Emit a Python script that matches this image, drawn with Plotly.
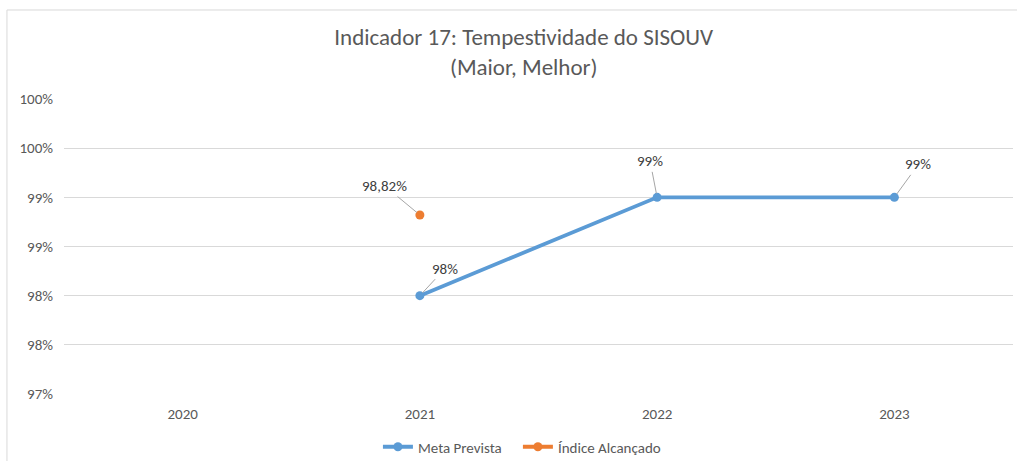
import plotly.graph_objects as go

categories = ["2020", "2021", "2022", "2023"]
meta_prevista = [None, 98.0, 99.0, 99.0]
meta_labels = [None, "98%", "99%", "99%"]
indice_alcancado = [None, 98.82, None, None]
indice_labels = [None, "98,82%", None, None]
y_tick_vals = [97.0, 97.5, 98.0, 98.5, 99.0, 99.5, 100.0]
y_tick_text = ["97%", "98%", "98%", "99%", "99%", "100%", "100%"]

FONT = "Carlito, Calibri, Lato, 'Open Sans', sans-serif"
BLUE = "#5B9BD5"
ORANGE = "#ED7D31"
GRID = "#D9D9D9"
TXT = "#595959"

fig = go.Figure()
fig.add_trace(go.Scatter(
    x=categories, y=meta_prevista, mode="lines+markers", name="Meta Prevista",
    line=dict(color=BLUE, width=3.8), marker=dict(color=BLUE, size=9),
    legend="legend",
))
fig.add_trace(go.Scatter(
    x=categories, y=indice_alcancado, mode="lines+markers", name="Índice Alcançado",
    line=dict(color=ORANGE, width=3.8), marker=dict(color=ORANGE, size=9),
    legend="legend2",
))

# label offsets (styling), in pixels
meta_offsets = [None, (25, -27), (-7, -36), (24, -33)]
indice_offsets = [None, (-35, -29), None, None]

anns = []
for series, labels, offsets in ((meta_prevista, meta_labels, meta_offsets),
                                (indice_alcancado, indice_labels, indice_offsets)):
    for i, (v, t) in enumerate(zip(series, labels)):
        if v is None:
            continue
        ax, ay = offsets[i]
        anns.append(dict(x=i, y=v, xref="x", yref="y", text=t, showarrow=True,
                         arrowhead=0, arrowwidth=1, arrowcolor="#A6A6A6",
                         ax=ax, ay=ay, standoff=4,
                         font=dict(family=FONT, size=15, color="#404040")))

legend_style = dict(orientation="h", xanchor="left", yref="container", y=0.0304,
                    yanchor="middle", font=dict(family=FONT, size=15, color=TXT),
                    bgcolor="rgba(0,0,0,0)", borderwidth=0)

fig.update_layout(
    width=1017, height=461,
    margin=dict(l=64, r=4, t=99, b=67),
    paper_bgcolor="white", plot_bgcolor="white",
    font=dict(family=FONT, size=15, color=TXT),
    title=dict(text="Indicador 17: Tempestividade do SISOUV<br>(Maior, Melhor)",
               x=0.515, xanchor="center", y=0.902, yanchor="middle",
               font=dict(family=FONT, size=23, color=TXT)),
    xaxis=dict(type="category", range=[-0.5, 3.5], showgrid=False, showline=False,
               ticks="", tickfont=dict(size=15, color=TXT), zeroline=False,
               ticklabelstandoff=9, automargin=False),
    yaxis=dict(range=[97.0, 100.0], tickvals=y_tick_vals, ticktext=y_tick_text,
               showgrid=True, gridcolor=GRID, gridwidth=1, zeroline=False,
               showline=False, ticks="", tickfont=dict(size=15, color=TXT),
               ticklabelstandoff=10, automargin=False),
    showlegend=True,
    legend=dict(x=0.3308, **legend_style),
    legend2=dict(x=0.4783, **legend_style),
    annotations=anns,
    shapes=[dict(type="rect", xref="paper", yref="paper", x0=-0.0601, x1=1.02,
                 y0=-0.3, y1=1.3017, line=dict(color=GRID, width=1), layer="below")],
)

fig.write_html("out.html", config={"displayModeBar": False},
               post_script="document.body.style.margin='0';")
